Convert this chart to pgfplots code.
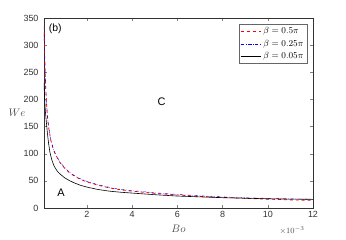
\documentclass[border=0pt]{standalone}
\usepackage{pgfplots}
\pgfplotsset{compat=1.18}
\usepackage{fontspec}
\setmainfont{Liberation Sans}
\begin{document}
\begin{tikzpicture}
\begin{axis}[
  name=ax,
  scale only axis,
  width=269bp, height=190bp,
  xmin=0.1, xmax=12, ymin=0, ymax=350,
  xtick={2,4,6,8,10,12},
  ytick={0,50,100,150,200,250,300,350},
  tick align=inside,
  tick pos=both,
  major tick length=3bp,
  /pgf/number format/assume math mode=true,
  tick label style={font=\fontsize{9}{10}\selectfont, color=black!80},
  yticklabel style={xshift=-2bp},
  xlabel={$Bo$}, ylabel={$We$},
  xlabel style={at={(rel axis cs:0.5,0)}, anchor=center, yshift=-21bp, color=black!70, font=\fontsize{10.5}{11}\selectfont},
  ylabel style={rotate=-90, at={(rel axis cs:0,0.5)}, anchor=center, xshift=-27bp, color=black!70, font=\fontsize{10.5}{11}\selectfont},
  axis line style={black!80},
  legend style={at={(rel axis cs:0.978,0.968)}, anchor=north east,
    font=\fontsize{9.5}{10}\selectfont, draw=black!60, inner sep=1.5pt, row sep=0.5pt},
  legend cell align=left,
  legend image post style={xscale=1.2},
]
\addplot[red, dashed, thick] coordinates {
(0.1,335) (0.13,280) (0.16,240) (0.2,200) (0.25,170) (0.3,150) (0.4,125) (0.5,110) (0.6,99) (0.8,84) (1.0,74) (1.2,66) (1.4,60) (1.7,53) (2,48) (2.5,42) (3,37) (3.5,33.5) (4,31) (5,27) (6,24) (7,21.5) (8,19.5) (9,17.8) (10,16.3) (11,15) (12,14)};
\addlegendentry{$\beta=0.5\pi$}
\addplot[blue, dashdotted] coordinates {
(0.1,320) (0.13,275) (0.16,238) (0.2,200) (0.25,171) (0.3,151) (0.4,126) (0.5,111) (0.6,100) (0.8,85) (1.0,75) (1.2,67) (1.4,61) (1.7,54) (2,49) (2.5,43) (3,38) (3.5,34.5) (4,32) (5,28) (6,25) (7,22.5) (8,20.5) (9,19) (10,17.8) (11,16.8) (12,16)};
\addlegendentry{$\beta=0.25\pi$}
\addplot[black, semithick] coordinates {
(0.1,230) (0.13,200) (0.16,178) (0.2,160) (0.25,138) (0.3,120) (0.36,103) (0.45,88) (0.55,77) (0.7,67) (0.8,63) (1.0,56) (1.2,51) (1.4,47) (1.7,42) (2,38.5) (2.5,34) (3,31) (3.5,29) (4,27.5) (5,24.5) (6,22) (7,20.5) (8,19) (9,18) (10,17) (11,16.4) (12,16)};
\addlegendentry{$\beta=0.05\pi$}
\node[font=\fontsize{10.5}{11}\selectfont, anchor=north west] at (rel axis cs:0.005,0.985) {(b)};
\node[font=\fontsize{11}{12}\selectfont] at (axis cs:5.3,195) {C};
\node[font=\fontsize{11}{12}\selectfont] at (axis cs:0.85,28) {A};
\end{axis}
\node[font=\fontsize{8.5}{9}\selectfont, color=black!70, anchor=north east] at ([xshift=-5bp,yshift=-15bp]ax.south east) {$\times10^{-3}$};
\path ([xshift=-44bp,yshift=-32bp]ax.south west) rectangle ([xshift=33bp,yshift=18bp]ax.north east);
\end{tikzpicture}
\end{document}
